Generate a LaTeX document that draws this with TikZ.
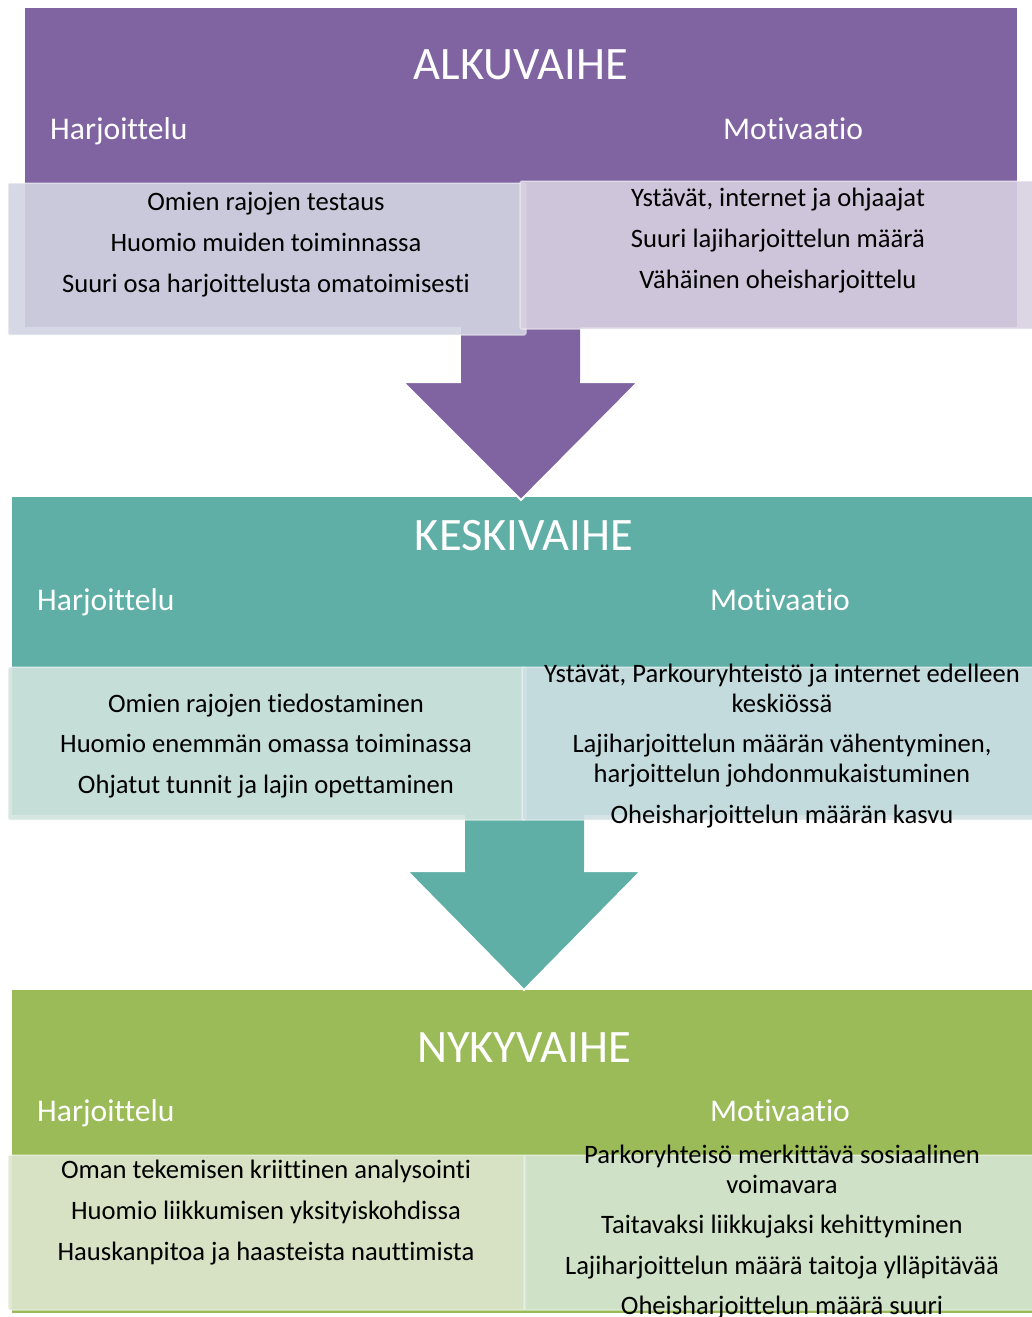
\documentclass[tikz,border=0pt]{standalone}
\usepackage{fontspec}
\setmainfont{Carlito}[Ligatures={NoCommon,NoRequired,NoContextual}]
\definecolor{cpurple}{HTML}{8064A2}
\definecolor{cteal}{HTML}{5FAFA6}
\definecolor{cgreen}{HTML}{9BBB59}
\definecolor{boxAL}{RGB}{210,212,226}
\definecolor{boxAR}{RGB}{216,208,225}
\definecolor{boxBL}{RGB}{210,228,222}
\definecolor{boxBR}{RGB}{208,224,227}
\definecolor{boxCL}{RGB}{221,231,207}
\definecolor{boxCR}{RGB}{213,230,210}
\tikzset{
  phasetitle/.style={text=white, font=\fontsize{46.5}{50}\selectfont, anchor=base, inner sep=0pt},
  phasehead/.style={text=white, font=\fontsize{31.6}{34}\selectfont, anchor=base, inner sep=0pt},
  item/.style={text=black, font=\fontsize{26.6}{30}\selectfont, anchor=base, inner sep=0pt},
  itembox/.style={fill opacity=0.9, draw=white, draw opacity=0.4, line width=1.5pt, rounded corners=2pt},
  arrowrim/.style={draw=white, line width=2pt, line join=miter}
}
\begin{document}
\begin{tikzpicture}[x=1pt,y=-1pt]
\useasboundingbox (0,0) rectangle (1032,1317);
\clip (0,0) rectangle (1032,1317);
% backgrounds
\fill[cpurple] (25,8) rectangle (1017,327);
\fill[cteal] (12,497) rectangle (1032,815);
\fill[cgreen] (12,990) rectangle (1032,1313);
% arrows
\fill[cpurple] (461,320) -- (461,382) -- (403,382) -- (521,500) -- (638,382) -- (580,382) -- (580,320) -- cycle;
\draw[arrowrim] (461,382) -- (403,382) -- (521,500) -- (638,382) -- (580,382);
\fill[cteal] (465,810) -- (465,871) -- (407,871) -- (524,990) -- (641,871) -- (584,871) -- (584,810) -- cycle;
\draw[arrowrim] (465,871) -- (407,871) -- (524,990) -- (641,871) -- (584,871);
% boxes
\draw[itembox, fill=boxAL] (8,183) rectangle (526,335);
\draw[itembox, fill=boxAR] (520,181) rectangle (1034,329);
\draw[itembox, fill=boxBL] (8,667) rectangle (526,820);
\draw[itembox, fill=boxBR] (522,667) rectangle (1034,820);
\draw[itembox, fill=boxCL] (8,1155) rectangle (526,1310);
\draw[itembox, fill=boxCR] (524,1155) rectangle (1034,1310);
% phase 1
\node[phasetitle] (t1) at (521,79) {ALKUVAIHE};
\node[phasehead, anchor=base west] (h1) at (50,139) {Harjoittelu};
\node[phasehead] (m1) at (793,139) {Motivaatio};
\node[item] (a1) at (266,210) {Omien rajojen testaus};
\node[item] (a2) at (266,251) {Huomio muiden toiminnassa};
\node[item] (a3) at (266,292) {Suuri osa harjoittelusta omatoimisesti};
\node[item] (b1) at (778,206) {Ystävät, internet ja ohjaajat};
\node[item] (b2) at (778,247) {Suuri lajiharjoittelun määrä};
\node[item] (b3) at (778,288) {Vähäinen oheisharjoittelu};
% phase 2
\node[phasetitle] (t2) at (524,550) {KESKIVAIHE};
\node[phasehead, anchor=base west] (h2) at (37,610) {Harjoittelu};
\node[phasehead] (m2) at (780,610) {Motivaatio};
\node[item] (c1) at (266,712) {Omien rajojen tiedostaminen};
\node[item] (c2) at (266,752) {Huomio enemmän omassa toiminassa};
\node[item] (c3) at (266,793) {Ohjatut tunnit ja lajin opettaminen};
\node[item] (d1) at (782,682) {Ystävät, Parkouryhteistö ja internet edelleen};
\node[item] (d2) at (782,712) {keskiössä};
\node[item] (d3) at (782,752) {Lajiharjoittelun määrän vähentyminen,};
\node[item] (d4) at (782,782) {harjoittelun johdonmukaistuminen};
\node[item] (d5) at (782,823) {Oheisharjoittelun määrän kasvu};
% phase 3
\node[phasetitle] (t3) at (524,1062) {NYKYVAIHE};
\node[phasehead, anchor=base west] (h3) at (37,1121) {Harjoittelu};
\node[phasehead] (m3) at (780,1121) {Motivaatio};
\node[item] (e1) at (266,1178) {Oman tekemisen kriittinen analysointi};
\node[item] (e2) at (266,1219) {Huomio liikkumisen yksityiskohdissa};
\node[item] (e3) at (266,1260) {Hauskanpitoa ja haasteista nauttimista};
\node[item] (f1) at (782,1163) {Parkoryhteisö merkittävä sosiaalinen};
\node[item] (f2) at (782,1193) {voimavara};
\node[item] (f3) at (782,1233) {Taitavaksi liikkujaksi kehittyminen};
\node[item] (f4) at (782,1274) {Lajiharjoittelun määrä taitoja ylläpitävää};
\node[item] (f5) at (782,1314) {Oheisharjoittelun määrä suuri};
\end{tikzpicture}
\end{document}
